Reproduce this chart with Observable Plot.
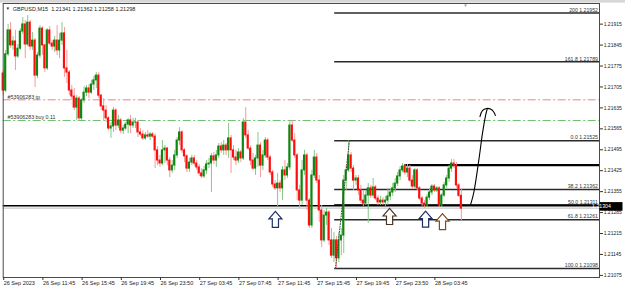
<!DOCTYPE html>
<html><head><meta charset="utf-8">
<script src="https://cdn.jsdelivr.net/npm/d3@7"></script>
<script src="https://cdn.jsdelivr.net/npm/@observablehq/plot@0.6"></script>
<style>html,body{margin:0;padding:0;background:#fff;} svg{display:block}</style>
</head><body><div id="chart"></div>
<script>
const open = [
1.21750,1.21693,1.21814,1.21894,1.21844,1.21857,1.21807,1.21833,1.21890,1.21914,
1.21847,1.21920,1.21840,1.21860,1.21743,1.21810,1.21900,1.21844,1.21767,1.21894,
1.21850,1.21840,1.21860,1.21827,1.21860,1.21884,1.21767,1.21753,1.21693,1.21673,
1.21636,1.21666,1.21600,1.21660,1.21686,1.21700,1.21686,1.21713,1.21727,1.21743,
1.21676,1.21640,1.21626,1.21600,1.21566,1.21573,1.21626,1.21576,1.21593,1.21559,
1.21566,1.21579,1.21593,1.21576,1.21586,1.21586,1.21553,1.21546,1.21533,1.21543,
1.21539,1.21546,1.21539,1.21493,1.21459,1.21449,1.21493,1.21499,1.21459,1.21426,
1.21442,1.21476,1.21526,1.21553,1.21493,1.21473,1.21432,1.21452,1.21466,1.21449,
1.21436,1.21416,1.21406,1.21426,1.21446,1.21449,1.21473,1.21459,1.21476,1.21506,
1.21493,1.21509,1.21493,1.21533,1.21493,1.21469,1.21459,1.21486,1.21466,1.21586,
1.21543,1.21499,1.21459,1.21432,1.21466,1.21509,1.21442,1.21476,1.21526,1.21469,
1.21419,1.21379,1.21366,1.21382,1.21366,1.21426,1.21409,1.21436,1.21576,1.21526,
1.21476,1.21359,1.21325,1.21426,1.21476,1.21325,1.21242,1.21409,1.21469,1.21392,
1.21292,1.21192,1.21275,1.21285,1.21192,1.21141,1.21192,1.21132,1.21192,1.21208,
1.21392,1.21426,1.21476,1.21432,1.21392,1.21399,1.21359,1.21325,1.21315,1.21342,
1.21366,1.21342,1.21369,1.21332,1.21319,1.21325,1.21319,1.21325,1.21339,1.21352,
1.21366,1.21382,1.21406,1.21426,1.21439,1.21419,1.21432,1.21392,1.21372,1.21426,
1.21366,1.21332,1.21315,1.21309,1.21335,1.21352,1.21372,1.21359,1.21366,1.21309,
1.21342,1.21376,1.21399,1.21432,1.21449,1.21442,1.21376,1.21341];
const high = [
1.21760,1.21827,1.21914,1.21920,1.21874,1.21894,1.21847,1.21900,1.21937,1.21927,
1.21944,1.21927,1.21887,1.21867,1.21820,1.21910,1.21907,1.21847,1.21900,1.21907,
1.21860,1.21874,1.21910,1.21884,1.21920,1.21904,1.21827,1.21760,1.21710,1.21700,
1.21676,1.21673,1.21666,1.21706,1.21710,1.21713,1.21727,1.21740,1.21753,1.21753,
1.21680,1.21666,1.21643,1.21606,1.21586,1.21636,1.21633,1.21610,1.21600,1.21576,
1.21586,1.21600,1.21610,1.21600,1.21600,1.21593,1.21566,1.21559,1.21553,1.21559,
1.21553,1.21553,1.21549,1.21506,1.21476,1.21526,1.21509,1.21503,1.21469,1.21459,
1.21493,1.21536,1.21569,1.21559,1.21499,1.21479,1.21466,1.21476,1.21476,1.21459,
1.21446,1.21432,1.21439,1.21459,1.21466,1.21483,1.21486,1.21493,1.21516,1.21519,
1.21526,1.21516,1.21583,1.21543,1.21509,1.21493,1.21499,1.21493,1.21600,1.21636,
1.21559,1.21509,1.21483,1.21476,1.21553,1.21519,1.21493,1.21536,1.21533,1.21476,
1.21426,1.21392,1.21416,1.21392,1.21439,1.21459,1.21449,1.21593,1.21593,1.21549,
1.21483,1.21376,1.21459,1.21493,1.21483,1.21332,1.21426,1.21493,1.21483,1.21409,
1.21309,1.21292,1.21299,1.21292,1.21232,1.21218,1.21205,1.21218,1.21232,1.21409,
1.21442,1.21525,1.21486,1.21442,1.21409,1.21409,1.21376,1.21359,1.21359,1.21382,
1.21376,1.21399,1.21376,1.21342,1.21339,1.21335,1.21339,1.21366,1.21366,1.21382,
1.21399,1.21419,1.21439,1.21449,1.21446,1.21446,1.21442,1.21409,1.21432,1.21432,
1.21372,1.21339,1.21325,1.21345,1.21366,1.21379,1.21379,1.21372,1.21372,1.21349,
1.21386,1.21409,1.21442,1.21462,1.21462,1.21452,1.21382,1.21362];
const low = [
1.21676,1.21686,1.21807,1.21833,1.21827,1.21760,1.21800,1.21827,1.21880,1.21800,
1.21840,1.21827,1.21827,1.21703,1.21733,1.21800,1.21810,1.21753,1.21760,1.21844,
1.21827,1.21820,1.21810,1.21800,1.21844,1.21737,1.21717,1.21676,1.21660,1.21626,
1.21593,1.21593,1.21593,1.21650,1.21673,1.21666,1.21680,1.21693,1.21700,1.21666,
1.21626,1.21593,1.21586,1.21559,1.21533,1.21553,1.21559,1.21566,1.21549,1.21546,
1.21559,1.21549,1.21549,1.21566,1.21566,1.21536,1.21539,1.21526,1.21526,1.21533,
1.21526,1.21533,1.21432,1.21442,1.21436,1.21442,1.21449,1.21442,1.21402,1.21416,
1.21426,1.21466,1.21509,1.21483,1.21452,1.21419,1.21419,1.21442,1.21439,1.21426,
1.21406,1.21399,1.21399,1.21412,1.21432,1.21352,1.21446,1.21436,1.21466,1.21483,
1.21476,1.21476,1.21466,1.21416,1.21459,1.21442,1.21449,1.21452,1.21459,1.21533,
1.21493,1.21442,1.21426,1.21409,1.21436,1.21402,1.21426,1.21466,1.21459,1.21409,
1.21369,1.21359,1.21305,1.21352,1.21325,1.21392,1.21399,1.21426,1.21519,1.21466,
1.21325,1.21299,1.21309,1.21409,1.21292,1.21232,1.21232,1.21399,1.21382,1.21252,
1.21168,1.21185,1.21242,1.21175,1.21132,1.21118,1.21098,1.21118,1.21141,1.21148,
1.21359,1.21419,1.21419,1.21359,1.21376,1.21342,1.21315,1.21305,1.21309,1.21249,
1.21332,1.21332,1.21325,1.21309,1.21309,1.21309,1.21305,1.21309,1.21325,1.21339,
1.21352,1.21372,1.21392,1.21419,1.21409,1.21402,1.21386,1.21362,1.21366,1.21359,
1.21325,1.21305,1.21299,1.21302,1.21325,1.21342,1.21352,1.21352,1.21302,1.21302,
1.21335,1.21366,1.21386,1.21419,1.21432,1.21366,1.21335,1.21258];
const close = [
1.21693,1.21814,1.21894,1.21844,1.21857,1.21807,1.21833,1.21890,1.21914,1.21847,
1.21920,1.21840,1.21860,1.21743,1.21810,1.21900,1.21844,1.21767,1.21894,1.21850,
1.21840,1.21860,1.21827,1.21860,1.21884,1.21767,1.21753,1.21693,1.21673,1.21636,
1.21666,1.21600,1.21660,1.21686,1.21700,1.21686,1.21713,1.21727,1.21743,1.21676,
1.21640,1.21626,1.21600,1.21566,1.21573,1.21626,1.21576,1.21593,1.21559,1.21566,
1.21579,1.21593,1.21576,1.21586,1.21586,1.21553,1.21546,1.21533,1.21543,1.21539,
1.21546,1.21539,1.21493,1.21459,1.21449,1.21493,1.21499,1.21459,1.21426,1.21442,
1.21476,1.21526,1.21553,1.21493,1.21473,1.21432,1.21452,1.21466,1.21449,1.21436,
1.21416,1.21406,1.21426,1.21446,1.21449,1.21473,1.21459,1.21476,1.21506,1.21493,
1.21509,1.21493,1.21533,1.21493,1.21469,1.21459,1.21486,1.21466,1.21586,1.21543,
1.21499,1.21459,1.21432,1.21466,1.21509,1.21442,1.21476,1.21526,1.21469,1.21419,
1.21379,1.21366,1.21382,1.21366,1.21426,1.21409,1.21436,1.21576,1.21526,1.21476,
1.21359,1.21325,1.21426,1.21476,1.21325,1.21242,1.21409,1.21469,1.21392,1.21292,
1.21192,1.21275,1.21285,1.21192,1.21141,1.21192,1.21132,1.21192,1.21208,1.21392,
1.21426,1.21476,1.21432,1.21392,1.21399,1.21359,1.21325,1.21315,1.21342,1.21366,
1.21342,1.21369,1.21332,1.21319,1.21325,1.21319,1.21325,1.21339,1.21352,1.21366,
1.21382,1.21406,1.21426,1.21439,1.21419,1.21432,1.21392,1.21372,1.21426,1.21366,
1.21332,1.21315,1.21309,1.21335,1.21352,1.21372,1.21359,1.21366,1.21309,1.21342,
1.21376,1.21399,1.21432,1.21449,1.21442,1.21376,1.21341,1.21298];

const xTickBars = [0,16,32,48,64,80,96,112,128,144,160,176];
const xTickLabels = ["26 Sep 2023","26 Sep 11:45","26 Sep 15:45","26 Sep 19:45","26 Sep 23:50","27 Sep 03:45","27 Sep 07:45","27 Sep 11:45","27 Sep 15:45","27 Sep 19:45","27 Sep 23:50","28 Sep 03:45"];
const yTicks = [1.21075,1.21145,1.21215,1.21285,1.21355,1.21425,1.21495,1.21565,1.21635,1.21705,1.21775,1.21845,1.21915];

const fibLevels = ["200","161.8","0.0","38.2","50.0","61.8","100.0"];
const fibPrices = [1.21952,1.21789,1.21525,1.21362,1.21311,1.21261,1.21098];
const fibFromBar = 135.3;
const fibTrend = [[135.6,1.21098],[141.3,1.21525]];

const tpPrice = 1.21662, buyPrice = 1.21593;
const supportPrice = 1.21308, bidPrice = 1.21304, bidLinePrice = 1.21300;
const resistPrice = 1.21444, resistFromBar = 163.8;
const shiftMarkerBar = 188.9;

const arrowBars = [111.1,157.7,172.4,179.3];
const arrowPrices = [1.21262,1.21272,1.21263,1.21255];
const arrowColors = ["#1c2e62","#4a3422","#1c2e62","#7a4d22"];

const pathBars = [190.7,192.1,194.4,195.5,196.9,197.6];
const pathPrices = [1.21309,1.21353,1.21476,1.21543,1.21610,1.21633];
const headBars = [194.6,195.6,197.3,198.9,200.1,200.9];
const headPrices = [1.21606,1.21626,1.21633,1.21631,1.21623,1.21610];

const title = "GBPUSD,M15  1.21341 1.21362 1.21258 1.21298";
const xMax = 243.39;

const bars = open.map((o,i)=>({i, o, h: high[i], l: low[i], c: close[i], up: close[i] >= o}));
const BULL="#0f870f", BEAR="#ff0d0d", BULLW="#86c886", BEARW="#f59a9a";

const upArrow = {draw(ctx){
  ctx.moveTo(0,-8); ctx.lineTo(6.5,-0.5); ctx.lineTo(3.1,-0.5); ctx.lineTo(3.1,8);
  ctx.lineTo(-3.1,8); ctx.lineTo(-3.1,-0.5); ctx.lineTo(-6.5,-0.5); ctx.closePath();
}};

const fib = fibPrices.map((p,k)=>({p, label: fibLevels[k] + " " + p.toFixed(5)}));
const arrows = arrowBars.map((b,k)=>({b, p: arrowPrices[k], col: arrowColors[k]}));
const pathPts = pathBars.map((b,k)=>[b, pathPrices[k]]);
const headPts = headBars.map((b,k)=>[b, headPrices[k]]);

const chart = Plot.plot({
  width: 625, height: 289,
  marginLeft: 2.7, marginRight: 26, marginTop: 3, marginBottom: 12,
  x: {domain: [0, xMax], axis: null},
  y: {domain: [1.21068, 1.21984], axis: null},
  style: {fontFamily: "'Liberation Sans', Arial, sans-serif", fontSize: "5.5px", background: "#fff", overflow: "visible", color: "#222"},
  marks: [
    Plot.ruleY([tpPrice], {stroke: "#f08484", strokeWidth: 1, strokeDasharray: "8,2.5,2,2.5"}),
    Plot.ruleY([buyPrice], {stroke: "#6cbf6c", strokeWidth: 1, strokeDasharray: "8,2.5,2,2.5"}),
    Plot.text(["#53906283 tp"], {x: 1.8, y: tpPrice, text: d=>d, textAnchor: "start", lineAnchor: "bottom", dy: -1.2, fontSize: 5.3, fill: "#333"}),
    Plot.text(["#53906283 buy 0.11"], {x: 1.8, y: buyPrice, text: d=>d, textAnchor: "start", lineAnchor: "bottom", dy: -1.2, fontSize: 5.3, fill: "#333"}),
    Plot.ruleY([bidLinePrice], {stroke: "#bdbdbd", strokeWidth: 1}),
    Plot.ruleY(fib, {y: "p", x1: fibFromBar, x2: xMax, stroke: "#2a2a2a", strokeWidth: 1.5}),
    Plot.ruleY([supportPrice], {stroke: "#000", strokeWidth: 1.4}),
    Plot.ruleY([resistPrice], {x1: resistFromBar, x2: xMax, stroke: "#000", strokeWidth: 2.2}),
    Plot.text(fib, {x: xMax, y: "p", text: "label", textAnchor: "end", lineAnchor: "bottom", dx: -1.5, dy: -1.3, fontSize: 5.2, fill: "#333"}),
    Plot.ruleX(bars, {x: "i", y1: "l", y2: "h", stroke: d => d.up ? BULLW : BEARW, strokeWidth: 1}),
    Plot.rect(bars, {x1: d => d.i - 0.44, x2: d => d.i + 0.44, y1: "o", y2: "c", fill: d => d.up ? BULL : BEAR, insetTop: -0.5, insetBottom: -0.5}),
    Plot.line(fibTrend, {stroke: "#444", strokeWidth: 1, strokeDasharray: "1,1.6"}),
    Plot.line(pathPts, {stroke: "#000", strokeWidth: 1.1, curve: "catmull-rom"}),
    Plot.line(headPts, {stroke: "#000", strokeWidth: 1.1, curve: "catmull-rom"}),
    Plot.dot(arrows, {x: "b", y: "p", symbol: upArrow, r: 8, fill: "#fff", stroke: "col", strokeWidth: 1.2}),
    Plot.frame({stroke: "#4a4a4a"}),
    Plot.axisY({anchor: "right", ticks: yTicks, tickFormat: d => d.toFixed(5), tickSize: 3, tickPadding: 1.2, fontSize: 5, stroke: "#333", fill: "#222", label: null}),
    Plot.axisX({anchor: "bottom", ticks: xTickBars, tickFormat: d => xTickLabels[xTickBars.indexOf(d)], tickSize: 3, tickPadding: 0.5, textAnchor: "start", dx: 0.5, fontSize: 5.5, stroke: "#333", fill: "#222", label: null}),
    Plot.text([title], {frameAnchor: "top-left", text: d=>d, dx: 9.5, dy: 3.2, lineAnchor: "top", textAnchor: "start", fontSize: 5.5, fill: "#222"}),
    Plot.text(["▼"], {frameAnchor: "top-left", text: d=>d, dx: 2.5, dy: 3.6, lineAnchor: "top", textAnchor: "start", fontSize: 4.2, fill: "#222"})
  ]
});

const svg = d3.select(chart);
const ys = chart.scale("y"), xs = chart.scale("x");
svg.append("rect").attr("x",0).attr("y",0).attr("width",625).attr("height",2.6).attr("fill","#d6d6d6");
svg.append("text").attr("x", xs.apply(shiftMarkerBar)).attr("y", 7).attr("text-anchor","middle")
  .attr("font-size",4.5).attr("fill","#9a9a9a").text("▼");
const by = ys.apply(bidPrice);
svg.append("rect").attr("x",599.5).attr("y",by-4.3).attr("width",23).attr("height",8.6).attr("fill","#000");
svg.append("text").attr("x",601.5).attr("y",by).attr("dy","0.36em").attr("font-size",5.2).attr("fill","#fff")
  .attr("font-family","'Liberation Sans', Arial, sans-serif").text(bidPrice.toFixed(5));

document.getElementById("chart").append(chart);
</script>
</body></html>
